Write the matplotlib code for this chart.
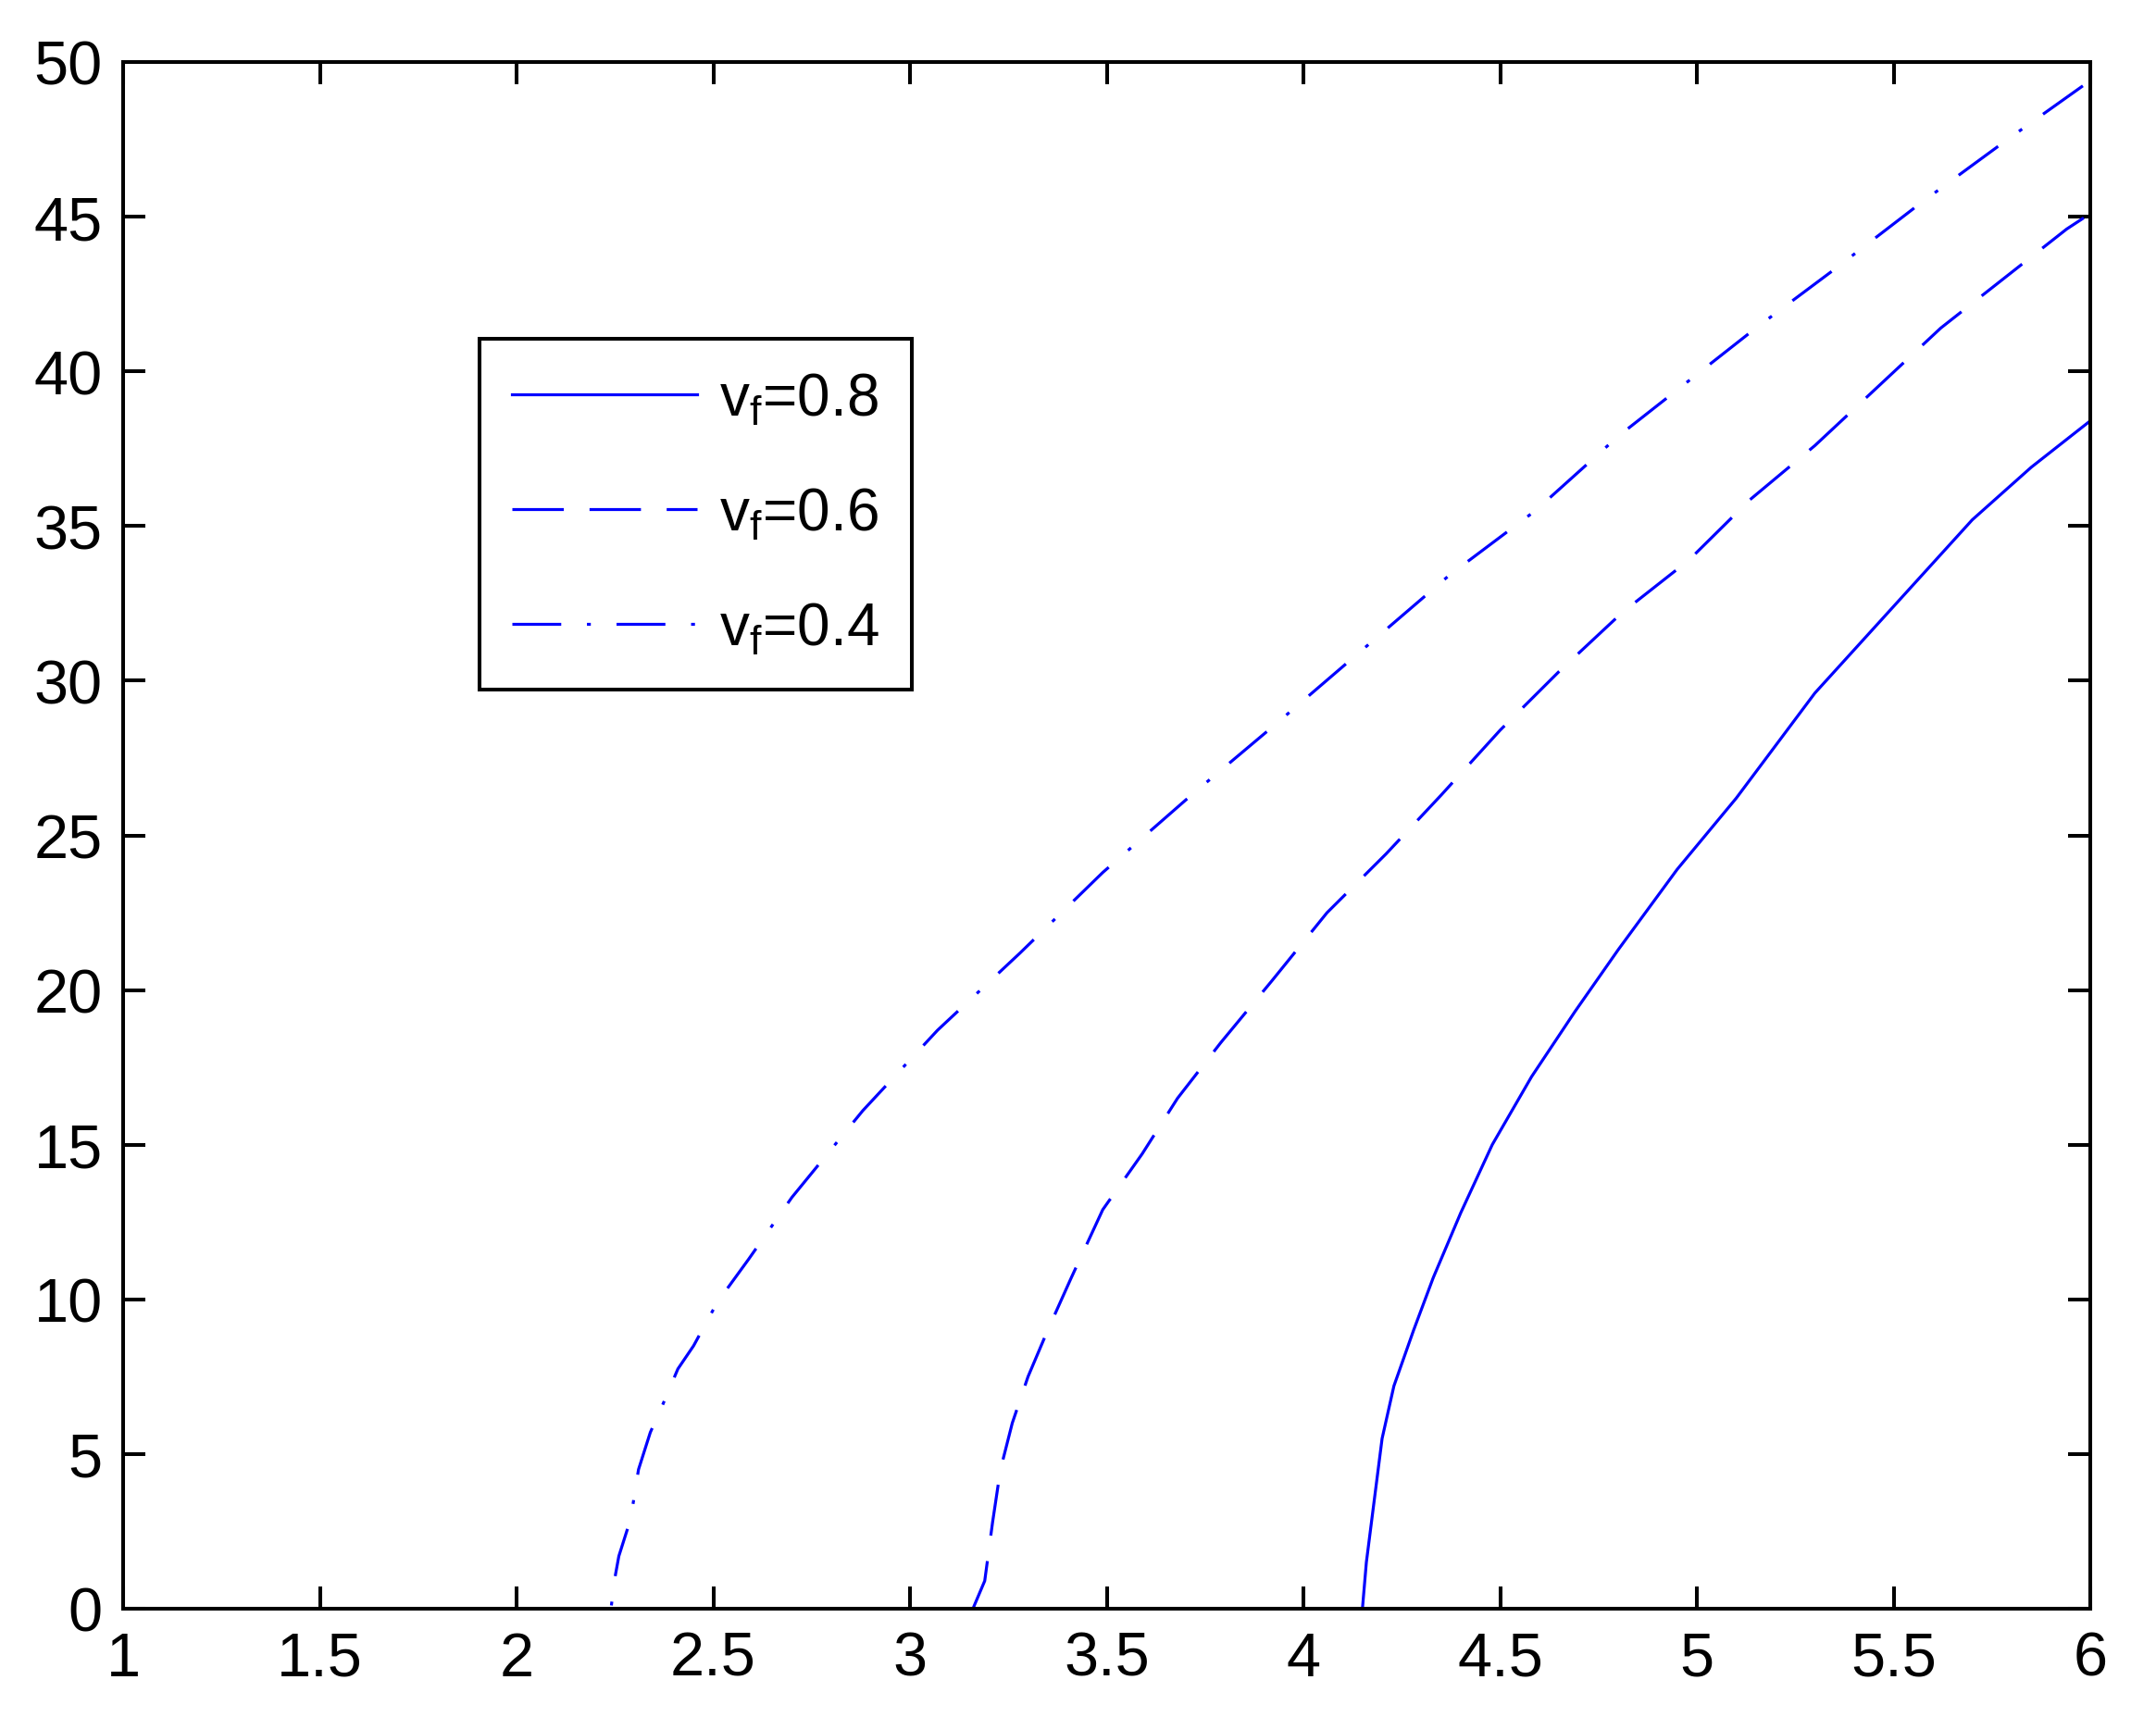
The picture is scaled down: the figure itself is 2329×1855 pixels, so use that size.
import matplotlib
matplotlib.use("Agg")
import matplotlib.pyplot as plt

# ---- data ----
x_08 = [1.0, 4.15, 4.16, 4.18, 4.20, 4.23, 4.28, 4.33, 4.40, 4.48, 4.58, 4.69, 4.80,
        4.95, 5.10, 5.30, 5.50, 5.70, 5.85, 6.0]
y_08 = [0.0, 0.0, 1.5, 3.5, 5.5, 7.2, 9.0, 10.7, 12.8, 15.0, 17.2, 19.3, 21.3,
        23.9, 26.2, 29.6, 32.4, 35.2, 36.9, 38.4]

x_06 = [1.0, 3.16, 3.19, 3.21, 3.23, 3.26, 3.30, 3.35, 3.41, 3.49, 3.59, 3.68, 3.79,
        3.92, 4.06, 4.21, 4.35, 4.50, 4.65, 4.81, 4.98, 5.135, 5.30, 5.46, 5.62,
        5.79, 5.94, 6.0]
y_06 = [0.0, 0.0, 0.9, 2.8, 4.5, 6.0, 7.5, 9.0, 10.7, 12.9, 14.7, 16.5, 18.3,
        20.3, 22.5, 24.4, 26.3, 28.4, 30.3, 32.2, 33.9, 35.85, 37.6, 39.5, 41.4,
        43.1, 44.6, 45.1]

x_04 = [1.0, 2.24, 2.25, 2.26, 2.29, 2.31, 2.34, 2.37, 2.41, 2.45, 2.51, 2.59, 2.70,
        2.88, 3.07, 3.28, 3.49, 3.715, 3.93, 4.15, 4.37, 4.59, 4.80, 5.02, 5.15,
        5.35, 5.57, 5.79, 6.0]
y_04 = [0.0, 0.0, 1.0, 1.7, 2.9, 4.5, 5.7, 6.55, 7.75, 8.5, 9.9, 11.3, 13.3,
        16.1, 18.7, 21.2, 23.8, 26.3, 28.6, 31.0, 33.4, 35.5, 37.9, 40.1, 41.4,
        43.3, 45.45, 47.5, 49.4]

labels = [r"$\mathregular{v_f}$=0.8", r"$\mathregular{v_f}$=0.6", r"$\mathregular{v_f}$=0.4"]
x_ticks = [1, 1.5, 2, 2.5, 3, 3.5, 4, 4.5, 5, 5.5, 6]
x_ticklabels = ["1", "1.5", "2", "2.5", "3", "3.5", "4", "4.5", "5", "5.5", "6"]
y_ticks = [0, 5, 10, 15, 20, 25, 30, 35, 40, 45, 50]

# ---- style ----
plt.rcParams["font.family"] = ["Liberation Sans", "DejaVu Sans"]
plt.rcParams["mathtext.fontset"] = "custom"
plt.rcParams["mathtext.rm"] = "Liberation Sans"
plt.rcParams["lines.scale_dashes"] = False

fig = plt.figure(figsize=(23.29, 18.56), dpi=100)
ax = fig.add_axes([133 / 2329, 1 - 1739 / 1856, (2258 - 133) / 2329, (1739 - 68) / 1856])

blue = "#0000ff"
lw = 2.3
ax.plot(x_08, y_08, color=blue, lw=lw, linestyle="-", label=labels[0])
ax.plot(x_06, y_06, color=blue, lw=lw, linestyle=(0, (40, 20)), label=labels[1])
ax.plot(x_04, y_04, color=blue, lw=lw, linestyle=(0, (38, 20, 3, 20)), label=labels[2])

ax.set_xlim(1, 6)
ax.set_ylim(0, 50)
ax.set_xticks(x_ticks)
ax.set_xticklabels(x_ticklabels)
ax.set_yticks(y_ticks)

for s in ax.spines.values():
    s.set_linewidth(2.9)
    s.set_color("black")

ax.tick_params(axis="both", which="major", direction="in", length=17, width=2.9,
               top=True, right=True, labelsize=48, colors="black")
ax.tick_params(axis="x", pad=17)
ax.tick_params(axis="y", pad=16)

leg = ax.legend(loc="upper left", bbox_to_anchor=(0.181, 0.821), borderaxespad=0,
                fontsize=46, handlelength=3.13, handletextpad=0.38, labelspacing=1.0,
                borderpad=0.55, fancybox=False, framealpha=1, edgecolor="black")
leg.get_frame().set_linewidth(2.9)

fig.savefig("out.png", dpi=100, facecolor="white")
